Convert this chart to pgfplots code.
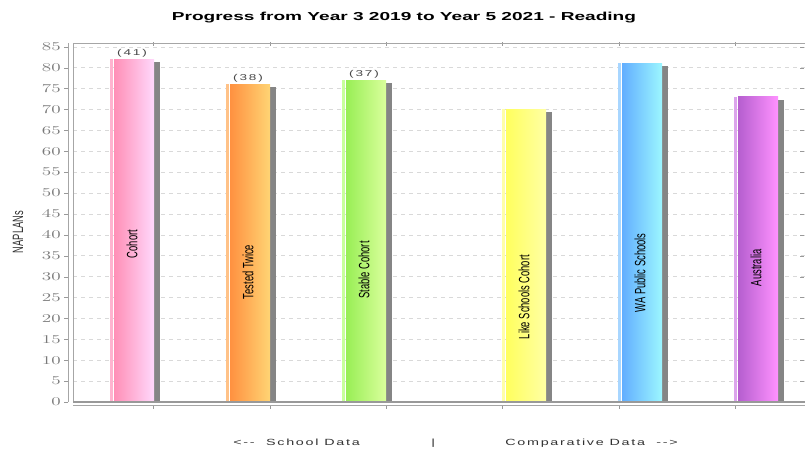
\documentclass[border=0pt]{standalone}
\usepackage{fontspec}
\setmainfont{Liberation Sans}
\newfontfamily\spaced[LetterSpace=12]{Liberation Sans}
\newfontfamily\spacedv[LetterSpace=14]{Liberation Sans}
\usepackage{pgfplots}
\pgfplotsset{compat=1.18}

\definecolor{pinkS}{HTML}{FFB3CF}\definecolor{pinkL}{HTML}{FF8FB6}\definecolor{pinkR}{HTML}{FFD8FC}
\definecolor{oraS}{HTML}{FFC288}\definecolor{oraL}{HTML}{FF9140}\definecolor{oraR}{HTML}{FFD474}
\definecolor{grnS}{HTML}{C8FF9C}\definecolor{grnL}{HTML}{98EE55}\definecolor{grnR}{HTML}{DAFF9C}
\definecolor{yelS}{HTML}{FFFFA8}\definecolor{yelL}{HTML}{FFFF5E}\definecolor{yelR}{HTML}{FFFFA4}
\definecolor{bluS}{HTML}{A8D6FF}\definecolor{bluL}{HTML}{62AEFF}\definecolor{bluR}{HTML}{9CF6FF}
\definecolor{purS}{HTML}{DCA4EC}\definecolor{purL}{HTML}{B55ECF}\definecolor{purR}{HTML}{FF92FF}
\definecolor{shad}{HTML}{858585}

% x, value, stripe colour, left colour, right colour, shadow height
\newcommand\fancybar[6]{%
  \addplot[ybar, bar width=6, bar shift=25, fill=shad, draw=none] coordinates {(#1,#6)};
  \addplot[ybar, bar width=3, bar shift=-20.5, fill=#3, draw=none] coordinates {(#1,#2)};
  \addplot[ybar, bar width=40, bar shift=2, left color=#4, right color=#5, draw=none] coordinates {(#1,#2)};
}

\begin{document}
\begin{tikzpicture}
\useasboundingbox (-73bp,-47bp) rectangle (732bp,402bp);
\begin{axis}[
  scale only axis,
  width=732bp, height=359bp,
  at={(0,0)}, anchor=south west,
  xmin=73, xmax=805,
  ymin=0, ymax=85.9,
  clip=false,
  axis line style={draw=gray!70},
  ytick={0,5,...,85},
  xtick={153.5,269.8,386.2,502.5,618.7,735},
  xticklabels={},
  tick align=outside,
  major tick length=3.5bp,
  ytick style={draw=gray!80, xshift=-5bp},
  xtick style={draw=gray!80, yshift=-3bp},
  yticklabel style={font=\fontsize{12}{13}\selectfont, text=gray!95!black, xscale=1.6, xshift=-2bp},
  ymajorgrids,
  grid style={gray!30, dash pattern=on 4bp off 4bp, line width=0.5bp},
]
\fancybar{132}{82}{pinkS}{pinkL}{pinkR}{81.3}
\fancybar{248}{76}{oraS}{oraL}{oraR}{75.3}
\fancybar{364}{77}{grnS}{grnL}{grnR}{76.3}
\fancybar{524}{70}{yelS}{yelL}{yelR}{69.3}
\fancybar{640}{81}{bluS}{bluL}{bluR}{80.3}
\fancybar{756}{73}{purS}{purL}{purR}{72.3}

\draw[gray!80, line width=1.2bp] (rel axis cs:0,0) -- (rel axis cs:1,0);
\draw[gray!70] ([xshift=-5bp]rel axis cs:0,0) -- ([xshift=-5bp]rel axis cs:0,1);
\draw[gray!70] ([yshift=-3bp]rel axis cs:0,0) -- ([yshift=-3bp]rel axis cs:1,0);

\tikzset{inbar/.style={rotate=90, yscale=1.6, font=\fontsize{9.4}{10}\selectfont, text=black}}
\node[inbar] at (axis cs:132,37.8) {Cohort};
\node[inbar] at (axis cs:248,31.1) {Tested Twice};
\node[inbar] at (axis cs:364,31.6) {Stable Cohort};
\node[inbar] at (axis cs:524,25.1) {Like Schools Cohort};
\node[inbar] at (axis cs:640,30.9) {WA Public Schools};
\node[inbar] at (axis cs:756,32.1) {Australia};

\tikzset{vlab/.style={anchor=base, xscale=1.6, font=\spacedv\fontsize{8.5}{9}\selectfont, text=gray!55!black, inner sep=0pt}}
\node[vlab] at (axis cs:132,82.9) {(41)};
\node[vlab] at (axis cs:248,76.9) {(38)};
\node[vlab] at (axis cs:364,77.9) {(37)};
\end{axis}

\node[font=\bfseries\fontsize{11.6}{13}\selectfont, xscale=1.65] at (331bp,384bp) {Progress from Year 3 2019 to Year 5 2021 - Reading};
\node[rotate=90, yscale=1.6, font=\fontsize{9.4}{10}\selectfont, text=black!80] at (-55bp,170bp) {NAPLANs};
\tikzset{blab/.style={anchor=base west, inner sep=0pt, xscale=1.6, font=\spaced\fontsize{9}{10}\selectfont, text=black!80}}
\node[blab] at (160bp,-43bp) {<--\ \ School Data};
\node[blab] at (358bp,-43bp) {|};
\node[blab] at (432bp,-43bp) {Comparative Data\ \ -->};
\end{tikzpicture}
\end{document}
